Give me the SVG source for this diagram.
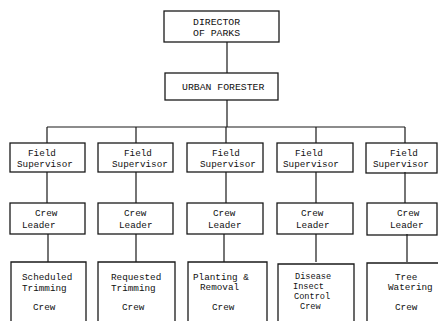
<svg xmlns="http://www.w3.org/2000/svg" width="438" height="322" viewBox="0 0 438 322">
<style>
.b{fill:none;stroke:#1a1a1a;stroke-width:1.3}
.c{fill:none;stroke:#1a1a1a;stroke-width:1.2}
text{font-family:"Liberation Mono","DejaVu Sans Mono",monospace;font-size:9.3px;fill:#111}
.u{font-size:9.8px}
.s{font-size:8.6px}
</style>
<rect width="438" height="322" fill="#fff"/>
<g id="connectors" class="c">
<path d="M227 42V73M227 100V127M47 127H405M47 127V143M136 127V143M226 127V143M316 127V143M405 127V143"/>
<path d="M47 172V203M136 172V203M226 172V203M316 172V203M405 172V203"/>
<path d="M48 234V262M136 234V262M224 234V262M316 234V262M407 234V262"/>
</g>
<g id="director"><rect class="b" x="164" y="11" width="115" height="31"/><text class="u" x="193" y="25">DIRECTOR</text><text class="u" x="193" y="36">OF PARKS</text></g>
<g id="forester"><rect class="b" x="165" y="73" width="113" height="27"/><text class="u" x="182" y="90">URBAN FORESTER</text></g>
<g id="fs1"><rect class="b" x="10" y="143" width="75" height="29"/><text x="28" y="156">Field</text><text x="17" y="167">Supervisor</text></g>
<g id="fs2"><rect class="b" x="98" y="143" width="75" height="29"/><text x="124" y="156">Field</text><text x="112" y="167">Supervisor</text></g>
<g id="fs3"><rect class="b" x="187" y="143" width="76" height="29"/><text x="212" y="156">Field</text><text x="200" y="167">Supervisor</text></g>
<g id="fs4"><rect class="b" x="277" y="143" width="76" height="29"/><text x="295" y="156">Field</text><text x="283" y="167">Supervisor</text></g>
<g id="fs5"><rect class="b" x="366" y="143" width="71" height="30"/><text x="390" y="156">Field</text><text x="373" y="167">Supervisor</text></g>
<g id="cl1"><rect class="b" x="10" y="203" width="75" height="31"/><text x="35" y="216">Crew</text><text x="22" y="228">Leader</text></g>
<g id="cl2"><rect class="b" x="98" y="203" width="75" height="31"/><text x="124" y="216">Crew</text><text x="119" y="228">Leader</text></g>
<g id="cl3"><rect class="b" x="187" y="203" width="76" height="31"/><text x="213" y="216">Crew</text><text x="208" y="228">Leader</text></g>
<g id="cl4"><rect class="b" x="277" y="203" width="76" height="31"/><text x="301" y="216">Crew</text><text x="296" y="228">Leader</text></g>
<g id="cl5"><rect class="b" x="367" y="203" width="70" height="32"/><text x="397" y="216">Crew</text><text x="390" y="228">Leader</text></g>
<g id="cr1"><path class="b" d="M11 321V262H86V321"/><text x="22" y="280">Scheduled</text><text x="22" y="291">Trimming</text><text x="33" y="310">Crew</text></g>
<g id="cr2"><path class="b" d="M98 321V262H175V321"/><text x="111" y="280">Requested</text><text x="111" y="291">Trimming</text><text x="122" y="310">Crew</text></g>
<g id="cr3"><path class="b" d="M188 321V262H267V321"/><text x="193" y="280">Planting &amp;</text><text x="200" y="290">Removal</text><text x="212" y="310">Crew</text></g>
<g id="cr4"><path class="b" d="M278 321V264H354V321"/><text class="s" x="295" y="279">Disease</text><text class="s" x="293" y="289">Insect</text><text class="s" x="294" y="299">Control</text><text class="s" x="300" y="309">Crew</text></g>
<g id="cr5"><path class="b" d="M367 321V263H438"/><text x="395" y="280">Tree</text><text x="388" y="290">Watering</text><text x="395" y="310">Crew</text></g>
</svg>
